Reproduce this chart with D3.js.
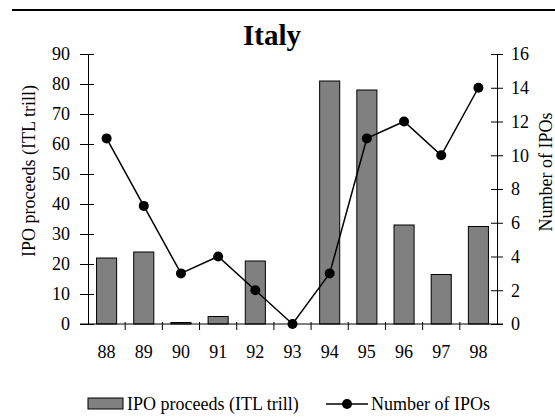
<!DOCTYPE html>
<html>
<head>
<meta charset="utf-8">
<script src="https://cdn.jsdelivr.net/npm/d3@7"></script>
<style>
  body { margin: 0; background: #fff; }
  text { font-family: "Liberation Serif", "Times New Roman", Times, serif; fill: #000; }
</style>
</head>
<body>
<div id="chart"></div>
<script>
// Data
const years = ["88", "89", "90", "91", "92", "93", "94", "95", "96", "97", "98"]
const proceeds = [22, 24, 0.5, 2.5, 21, 0, 81, 78, 33, 16.5, 32.5]
const numIPOs = [11, 7, 3, 4, 2, 0, 3, 11, 12, 10, 14]
const leftTicks = [0, 10, 20, 30, 40, 50, 60, 70, 80, 90]
const rightTicks = [0, 2, 4, 6, 8, 10, 12, 14, 16]

// Dimensions
const width = 555
const height = 417
const plotLeft = 88
const plotRight = 497
const plotTop = 54
const plotBottom = 324
const barFrac = 0.54
const dotRadius = 5
const fontSize = "18px"
const serif = "'Liberation Serif', 'Times New Roman', Times, serif"

const svg = d3.select("#chart")
  .append("svg")
    .attr("width", width)
    .attr("height", height)

const x = d3.scaleBand().domain(years).range([plotLeft, plotRight]).padding(0)
const yLeft = d3.scaleLinear().domain([0, 90]).range([plotBottom, plotTop])
const yRight = d3.scaleLinear().domain([0, 16]).range([plotBottom, plotTop])

// top rule
svg.append("line")
  .attr("x1", 12).attr("x2", width)
  .attr("y1", 10).attr("y2", 10)
  .attr("stroke", "#000").attr("stroke-width", 2)

// title
svg.append("text")
  .attr("x", 272).attr("y", 45)
  .attr("text-anchor", "middle")
  .style("font-size", "29px")
  .style("font-weight", "bold")
  .text("Italy")

// bars
const bw = x.bandwidth() * barFrac
svg.selectAll(".bar")
  .data(proceeds)
  .enter().append("rect")
    .attr("class", "bar")
    .attr("x", function(d, i) { return x(years[i]) + (x.bandwidth() - bw) / 2 })
    .attr("y", function(d) { return yLeft(d) })
    .attr("width", bw)
    .attr("height", function(d) { return plotBottom - yLeft(d) })
    .attr("fill", "#808080")
    .attr("stroke", "#000")
    .attr("stroke-width", 1)

// left axis
const leftAxis = svg.append("g")
  .attr("transform", "translate(" + plotLeft + ",0)")
  .call(d3.axisLeft(yLeft).tickValues(leftTicks).tickSize(0).tickPadding(18))
leftAxis.attr("font-family", null)
leftAxis.select(".domain").attr("stroke", "#000")
leftAxis.selectAll(".tick line").attr("x1", -8).attr("x2", 6).attr("stroke", "#000")
leftAxis.selectAll("text")
  .style("font-family", serif)
  .style("font-size", fontSize)
  .attr("fill", "#000")

// right axis
const rightAxis = svg.append("g")
  .attr("transform", "translate(" + plotRight + ",0)")
  .call(d3.axisRight(yRight).tickValues(rightTicks).tickSize(0).tickPadding(14))
rightAxis.attr("font-family", null)
rightAxis.select(".domain").attr("stroke", "#000")
rightAxis.selectAll(".tick line").attr("x1", -6).attr("x2", 6).attr("stroke", "#000")
rightAxis.selectAll("text")
  .style("font-family", serif)
  .style("font-size", fontSize)
  .attr("fill", "#000")

// x axis
const xAxis = svg.append("g")
  .attr("transform", "translate(0," + plotBottom + ")")
  .call(d3.axisBottom(x).tickSize(0).tickPadding(21))
xAxis.attr("font-family", null)
xAxis.select(".domain").remove()
xAxis.append("line")
  .attr("x1", plotLeft - 8).attr("x2", plotRight + 6)
  .attr("stroke", "#000")
xAxis.selectAll("text")
  .style("font-family", serif)
  .style("font-size", fontSize)
  .attr("fill", "#000")
xAxis.selectAll(".xtick")
  .data(years.slice(1))
  .enter().append("line")
    .attr("class", "xtick")
    .attr("x1", function(d) { return x(d) })
    .attr("x2", function(d) { return x(d) })
    .attr("y1", -2).attr("y2", 6)
    .attr("stroke", "#000")

// line series
const line = d3.line()
  .x(function(d, i) { return x(years[i]) + x.bandwidth() / 2 })
  .y(function(d) { return yRight(d) })
svg.append("path")
  .datum(numIPOs)
  .attr("d", line)
  .attr("fill", "none")
  .attr("stroke", "#000")
  .attr("stroke-width", 1.5)
svg.selectAll(".dot")
  .data(numIPOs)
  .enter().append("circle")
    .attr("class", "dot")
    .attr("cx", function(d, i) { return x(years[i]) + x.bandwidth() / 2 })
    .attr("cy", function(d) { return yRight(d) })
    .attr("r", dotRadius)
    .attr("fill", "#000")

// axis titles
svg.append("text")
  .attr("transform", "translate(35,171) rotate(-90)")
  .attr("text-anchor", "middle")
  .style("font-size", fontSize)
  .text("IPO proceeds (ITL trill)")
svg.append("text")
  .attr("transform", "translate(552,172) rotate(-90)")
  .attr("text-anchor", "middle")
  .style("font-size", fontSize)
  .text("Number of IPOs")

// legend
svg.append("rect")
  .attr("x", 88).attr("y", 398)
  .attr("width", 35).attr("height", 11)
  .attr("fill", "#808080").attr("stroke", "#000")
svg.append("text")
  .attr("x", 127).attr("y", 410)
  .style("font-size", fontSize)
  .text("IPO proceeds (ITL trill)")
svg.append("line")
  .attr("x1", 326).attr("x2", 368)
  .attr("y1", 404).attr("y2", 404)
  .attr("stroke", "#000").attr("stroke-width", 1.5)
svg.append("circle")
  .attr("cx", 347).attr("cy", 404)
  .attr("r", dotRadius).attr("fill", "#000")
svg.append("text")
  .attr("x", 371).attr("y", 410)
  .style("font-size", fontSize)
  .text("Number of IPOs")
</script>
</body>
</html>
